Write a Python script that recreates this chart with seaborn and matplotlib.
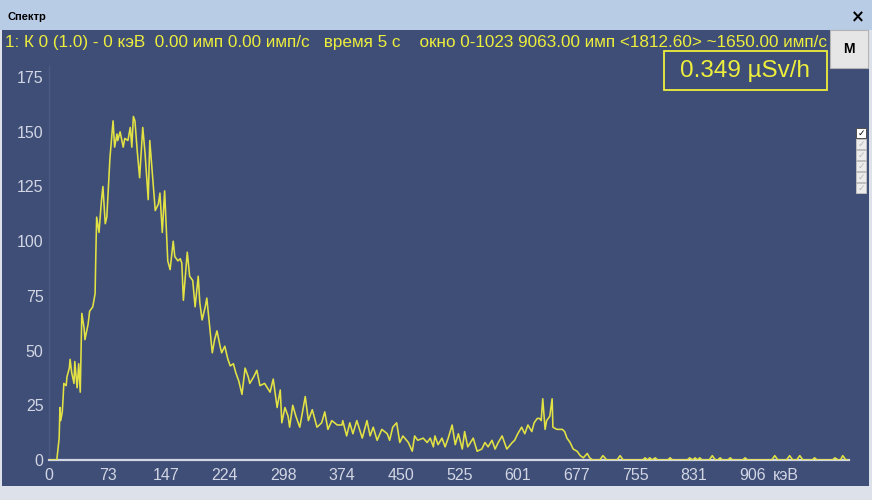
import matplotlib
matplotlib.use("Agg")
import matplotlib.pyplot as plt
from matplotlib.patches import Rectangle
import seaborn as sns
import pandas as pd

# ---- data (channel, counts) ----
channels = [0, 10, 13, 14, 15, 17, 18, 19, 22, 23, 26, 27, 29, 32, 33, 36, 38, 40, 41, 42,
            45, 46, 50, 52, 56, 59, 60, 61, 64, 67, 69, 72, 74, 78, 82, 84, 87, 88, 91, 95,
            97, 101, 104, 106, 108, 110, 113, 116, 120, 123, 127, 129, 133, 136, 140, 142, 145, 148, 152, 155,
            159, 161, 165, 168, 170, 172, 177, 180, 184, 187, 191, 193, 196, 200, 202, 206, 209, 212, 215, 219,
            221, 225, 229, 232, 236, 239, 243, 247, 251, 255, 257, 262, 266, 270, 276, 283, 287, 292, 296, 298,
            302, 306, 308, 312, 316, 321, 328, 332, 337, 343, 349, 353, 357, 362, 369, 375, 376, 381, 385, 389,
            394, 401, 407, 411, 415, 420, 426, 433, 436, 440, 445, 449, 453, 460, 465, 468, 472, 479, 484, 488,
            492, 494, 498, 503, 507, 511, 516, 520, 524, 529, 532, 536, 543, 548, 554, 558, 562, 567, 571, 575,
            580, 586, 593, 596, 600, 605, 609, 613, 618, 621, 625, 628, 630, 632, 635, 637, 641, 644, 645, 650,
            657, 660, 663, 667, 671, 676, 680, 684, 689, 692, 696, 705, 709, 714, 727, 731, 735, 760, 763, 766,
            769, 772, 776, 779, 792, 795, 798, 817, 820, 824, 827, 830, 833, 836, 845, 849, 853, 856, 859, 862,
            869, 872, 875, 888, 891, 894, 925, 929, 933, 944, 948, 952, 957, 961, 965, 977, 980, 983, 1003, 1006,
            1010, 1013, 1016, 1020, 1023]
counts = [0, 0, 10, 24, 18, 22, 28, 35, 34, 38, 42, 46, 40, 35, 45, 33, 44, 31, 50, 67,
          60, 55, 62, 68, 70, 76, 95, 111, 104, 118, 125, 108, 111, 138, 155, 143, 149, 146, 150, 143,
          147, 146, 152, 143, 157, 155, 141, 129, 152, 140, 119, 146, 128, 114, 117, 122, 104, 123, 91, 87,
          100, 93, 91, 92, 90, 73, 95, 84, 82, 70, 84, 72, 64, 70, 74, 60, 49, 55, 59, 52,
          49, 52, 46, 43, 44, 40, 36, 30, 42, 38, 35, 38, 41, 34, 35, 31, 37, 24, 32, 17,
          24, 20, 15, 25, 20, 15, 29, 18, 23, 15, 17, 22, 14, 18, 16, 16, 18, 11, 17, 12,
          18, 10, 18, 11, 15, 9, 14, 12, 9, 15, 17, 8, 11, 8, 4, 11, 9, 10, 8, 10,
          6, 11, 7, 10, 6, 10, 16, 7, 12, 5, 13, 6, 10, 4, 5, 8, 6, 9, 5, 8,
          11, 5, 8, 9, 12, 15, 12, 16, 13, 17, 19, 19, 18, 28, 14, 18, 20, 28, 15, 14,
          14, 13, 10, 8, 5, 4, 2, 1, 3, 1, 0, 0, 2, 0, 0, 2, 0, 0, 1, 0,
          1, 0, 1, 0, 0, 1, 0, 0, 1, 0, 1, 0, 1, 0, 0, 2, 0, 0, 1, 0,
          0, 1, 0, 0, 1, 0, 0, 2, 0, 0, 2, 0, 0, 2, 0, 0, 1, 0, 0, 1,
          0, 0, 2, 0, 0]

tick_channels = [0, 75, 150, 225, 300, 375, 450, 525, 600, 675, 750, 825, 900]
tick_labels = ["0", "73", "147", "224", "298", "374", "450", "525", "601", "677", "755", "831", "906"]
y_ticks = [0, 25, 50, 75, 100, 125, 150, 175]

header = ("1: К 0 (1.0) - 0 кэВ  0.00 имп 0.00 имп/с   время 5 с    "
          "окно 0-1023 9063.00 имп <1812.60> ~1650.00 имп/с")
dose = "0.349 µSv/h"

# ---- style ----
sns.set_theme(style="dark")
FONT = ["Liberation Sans", "DejaVu Sans"]
plt.rcParams["font.family"] = FONT

PANEL = "#3f4e77"
TITLEBAR = "#b9cce6"
FRAME = "#dde2ea"
YELLOW = "#eeee3c"
LINE = "#e2e244"
LIGHT = "#d2d6e4"

W, H = 872, 500
fig = plt.figure(figsize=(W / 100, H / 100), dpi=100, facecolor=FRAME)


def fx(x):
    return x / W


def fy(y):
    return 1 - y / H


def rect(x0, y0, x1, y1, z=-1, **kw):
    fig.patches.append(Rectangle((fx(x0), fy(y1)), fx(x1) - fx(x0), fy(y0) - fy(y1),
                                 transform=fig.transFigure, zorder=z, **kw))


# window frame parts
rect(0, 0, W, 30, facecolor=TITLEBAR, edgecolor="none")
rect(2, 30, 869, 486, facecolor=PANEL, edgecolor="none")
fig.text(fx(7), fy(17), "Спектр", fontsize=8, fontweight="bold", color="black",
         ha="left", va="center")
fig.text(fx(858), fy(17), "×", fontsize=12, fontweight="bold", color="black",
         ha="center", va="center", family=["DejaVu Sans"])

# header text
fig.text(fx(5), fy(43), header, fontsize=12.35, color=YELLOW, ha="left", va="center")

# M button
rect(830, 30, 868, 68, z=5, facecolor="#e6e6e6", edgecolor="#b4b4b4", linewidth=0.8)
fig.text(fx(849), fy(49), "M", fontsize=10, fontweight="bold", color="black",
         ha="center", va="center", zorder=6)

# dose box
rect(664, 51, 827, 90, z=5, facecolor="none", edgecolor=YELLOW, linewidth=1.3)
fig.text(fx(745), fy(71), dose, fontsize=17.5, color=YELLOW, ha="center", va="center", zorder=6)

# checkboxes
for i in range(6):
    y0 = 128 + i * 11
    checked = i == 0
    rect(856, y0, 866, y0 + 10, z=5, facecolor="white" if checked else "#ececec",
         edgecolor="#505050" if checked else "#c0c0c0", linewidth=0.7)
    fig.text(fx(861), fy(y0 + 5), "✓", fontsize=6.5, color="black" if checked else "#b8b8b8",
             ha="center", va="center", family=["DejaVu Sans"], zorder=6)

# ---- axes ----
ymax = 180
ax = fig.add_axes([fx(49), fy(460), fx(849) - fx(49), fy(460 - ymax * 2.188) - fy(460)])
ax.set_facecolor(PANEL)
df = pd.DataFrame({"channel": channels, "counts": counts})
sns.lineplot(data=df, x="channel", y="counts", ax=ax, color=LINE, linewidth=1.15, zorder=3)
ax.set_xlim(0, 1024)
ax.set_ylim(0, ymax)
ax.set_xlabel("")
ax.set_ylabel("")
ax.grid(False)
for s in ["top", "right"]:
    ax.spines[s].set_visible(False)
ax.spines["left"].set_color("#4a5a84")
ax.spines["left"].set_linewidth(1.0)
ax.spines["bottom"].set_color(LIGHT)
ax.spines["bottom"].set_linewidth(1.6)
ax.set_xticks(tick_channels)
ax.set_xticklabels(tick_labels)
ax.set_yticks(y_ticks)
ax.set_yticklabels([str(v) for v in y_ticks])
ax.tick_params(axis="both", colors=LIGHT, labelcolor=LIGHT, labelsize=11.5, length=3, width=0.8,
               direction="out")
ax.tick_params(axis="x", pad=2.5)
ax.tick_params(axis="y", pad=1)
fig.text(fx(786), fy(476), "кэВ", fontsize=11.5, color=LIGHT, ha="center", va="center")

fig.savefig("out.png", dpi=100, facecolor=fig.get_facecolor())
